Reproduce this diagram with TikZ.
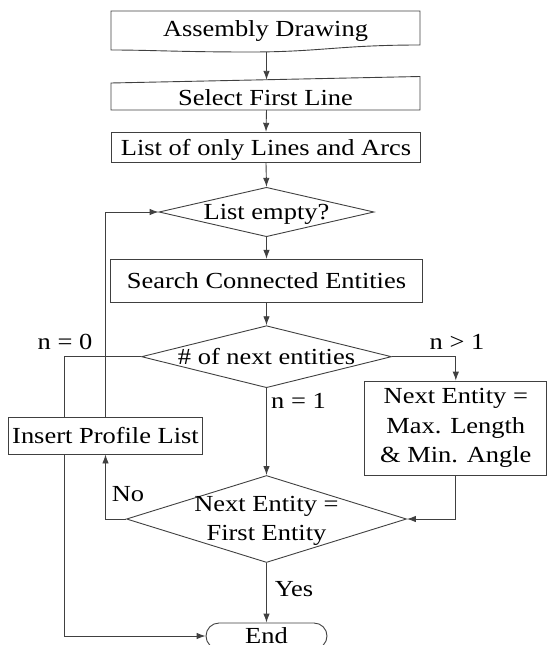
\documentclass[tikz,border=0pt]{standalone}
\usepackage{fontspec}
\setmainfont{Liberation Serif}[FakeStretch=1.15]
\usetikzlibrary{shapes.geometric,shapes.misc,arrows.meta,backgrounds}

\begin{document}
\begin{tikzpicture}[x=1pt,y=-1pt,
  font=\fontsize{23}{29.5}\selectfont,
  line/.style={draw=black!75, line width=0.9pt},
  flow/.style={line, -{Latex[length=9pt,width=6.5pt]}},
  txt/.style={inner sep=0pt, text height=15.2pt, text depth=0pt},
  box/.style={line, fill=white, rectangle, inner sep=0pt},
  decision/.style={line, diamond, inner sep=0pt},
  term/.style={line, fill=white, rounded rectangle, inner sep=0pt},
  lbl/.style={inner sep=0pt, align=center}
]
\useasboundingbox (0,0) rectangle (548,645);
\clip (0,0) rectangle (548,645);

% document-shaped input box with a wavy lower edge
\draw[line] (111,11) -- (420,11) -- (420,45)
  .. controls (340,45) and (320,52) .. (250,52)
  .. controls (180,52) and (150,50) .. (111,50) -- cycle;
\node[txt] (asm) at (265.5,29.2) {Assembly Drawing};
\coordinate (asmS) at (266.5,52);

% manual-input box with a slanted top edge
\draw[line] (111,83) -- (420,76.5) -- (420,110) -- (111,110) -- cycle;
\node[txt] (sel) at (265.5,97.5) {Select First Line};
\coordinate (selN) at (266.5,79.8);
\coordinate (selS) at (266.5,110);

\node[box, txt, minimum width=309pt, minimum height=30.5pt] (lst) at (266,147.5) {List of only Lines and Arcs};

\node[decision, minimum width=215pt, minimum height=49.4pt] (d1) at (266.5,212) {};
\node[txt] (d1t) at (d1) {List empty?};

\node[box, txt, minimum width=312pt, minimum height=43.4pt] (srch) at (266.5,281) {Search Connected Entities};

\node[decision, minimum width=250pt, minimum height=62pt] (d2) at (266.5,356.7) {};
\node[txt] (d2t) at (d2) {\# of next entities};

\node[box, align=center, minimum width=182pt, minimum height=94pt] (nx) at (455.8,428)
  {Next Entity =\\Max. Length\\\&~Min. Angle};

\node[box, txt, minimum width=194.4pt, minimum height=37pt] (ins) at (105.5,435.5) {Insert Profile List};

\node[decision, minimum width=280pt, minimum height=87pt] (d3) at (266.5,519) {};
\node[lbl, yshift=-2pt] (d3t) at (d3) {Next Entity =\\First Entity};

% terminator, running off the lower edge of the page
\node[term, txt, minimum width=121pt, minimum height=26pt] (end) at (266.5,636) {End};

\coordinate (n0) at (64.5,0);

% branch labels
\node[txt] (l0) at (65,342) {n = 0};
\node[txt] (l2) at (457,341.7) {n > 1};
\node[txt] (l1) at (298.5,400.7) {n = 1};
\node[txt] (lno) at (128,494) {No};
\node[txt] (lyes) at (294,589) {Yes};

\begin{scope}[on background layer]
  \draw[flow] (asmS) -- (selN);
  \draw[flow] (selS) -- (lst.north);
  \draw[flow] (lst.south) -- (d1.north);
  \draw[flow] (d1.south) -- (srch.north);
  \draw[flow] (srch.south) -- (d2.north);
  \draw[flow] (d2.west) -- (d2.west -| n0) |- (end.west);
  \draw[flow] (d2.east) -| (nx.north);
  \draw[flow] (d2.south) -- (d3.north);
  \draw[flow] (nx.south) |- (d3.east);
  \draw[flow] (d3.west) -| (ins.south);
  \draw[flow] (ins.north) |- (d1.west);
  \draw[flow] (d3.south) -- (end.north);
\end{scope}
\end{tikzpicture}
\end{document}
